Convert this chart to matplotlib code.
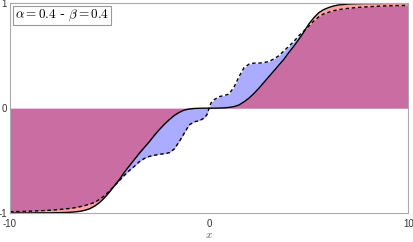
import numpy as np
import matplotlib
matplotlib.use("Agg")
import matplotlib.pyplot as plt

plt.rcParams['mathtext.fontset'] = 'cm'

# x positions at which the curves were read
x_vals = [-10, -9.5, -9, -8.5, -8, -7.5, -7, -6.75, -6.5, -6.25, -6, -5.75, -5.5, -5.25, -5,
          -4.75, -4.5, -4.25, -4, -3.75, -3.5, -3.25, -3, -2.75, -2.5, -2.25, -2, -1.75,
          -1.5, -1.25, -1, -0.75, -0.5, -0.25, -0.1, 0,
          0.1, 0.25, 0.5, 0.75, 1, 1.25, 1.5, 1.75, 2, 2.25, 2.5, 2.75, 3, 3.25, 3.5, 3.75,
          4, 4.25, 4.5, 4.75, 5, 5.25, 5.5, 5.75, 6, 6.25, 6.5, 6.75, 7, 7.5, 8, 8.5, 9, 9.5, 10]

# solid curve
solid_vals = [-1.0, -1.0, -1.0, -0.999, -0.999, -0.997, -0.994, -0.99, -0.985, -0.975, -0.96,
              -0.935, -0.90, -0.855, -0.80, -0.74, -0.68, -0.61, -0.55, -0.49, -0.43, -0.375,
              -0.32, -0.26, -0.205, -0.155, -0.11, -0.07, -0.04, -0.018, -0.008, -0.003,
              -0.001, 0.0, 0.0, 0.0,
              0.0, 0.0, 0.001, 0.003, 0.007, 0.015, 0.03, 0.06, 0.095, 0.14, 0.19, 0.245,
              0.30, 0.355, 0.41, 0.465, 0.53, 0.59, 0.655, 0.725, 0.80, 0.86, 0.91, 0.94,
              0.96, 0.975, 0.985, 0.99, 0.994, 0.997, 0.999, 0.999, 1.0, 1.0, 1.0]

# dashed curve
dashed_vals = [-0.988, -0.986, -0.983, -0.979, -0.974, -0.967, -0.957, -0.950, -0.941, -0.930,
               -0.915, -0.90, -0.87, -0.835, -0.79, -0.74, -0.69, -0.64, -0.595, -0.555,
               -0.51, -0.48, -0.46, -0.45, -0.44, -0.435, -0.425, -0.39, -0.32, -0.24,
               -0.16, -0.13, -0.12, -0.095, -0.06, 0.0,
               0.05, 0.08, 0.11, 0.12, 0.135, 0.20, 0.30, 0.385, 0.42, 0.43, 0.43, 0.435,
               0.445, 0.47, 0.50, 0.545, 0.59, 0.635, 0.69, 0.735, 0.78, 0.83, 0.87, 0.90,
               0.915, 0.93, 0.94, 0.947, 0.953, 0.962, 0.968, 0.973, 0.977, 0.979, 0.981]

x_ticks = [-10, 0, 10]
y_ticks = [-1, 0, 1]
label_text = r"$\alpha = 0.4$ - $\beta = 0.4$"

x = np.array(x_vals)
s = np.array(solid_vals)
d = np.array(dashed_vals)

fig = plt.figure(figsize=(4.14, 2.42), dpi=100)
ax = fig.add_axes([0.024, 0.12, 0.962, 0.866])

ax.fill_between(x, 0, d, color=(0.0, 0.0, 1.0), alpha=0.33, linewidth=0)
ax.fill_between(x, 0, s, color=(1.0, 0.0, 0.0), alpha=0.36, linewidth=0)
ax.plot(x, s, color='black', linewidth=1.0)
ax.plot(x, d, color='black', linewidth=1.0, linestyle=(0, (2.5, 2.0)))

ax.set_xlim(-10, 10)
ax.set_ylim(-1, 1)
ax.set_xticks(x_ticks)
ax.set_yticks(y_ticks)
ax.set_xticklabels([str(v) for v in x_ticks], family='Liberation Sans')
ax.set_yticklabels([str(v) for v in y_ticks], family='Liberation Sans')
ax.tick_params(length=0, labelsize=7, colors='#333333', pad=2)
ax.tick_params(axis='x', pad=4)
for sp in ax.spines.values():
    sp.set_color('#aaaaaa')
    sp.set_linewidth(0.8)

ax.set_xlabel(r"$x$", fontsize=8, labelpad=1, color='#555555')

ax.text(0.012, 0.98, label_text, transform=ax.transAxes, fontsize=9.5,
        ha='left', va='top',
        bbox=dict(boxstyle='square,pad=0.15', facecolor='white', edgecolor='#999999',
                  linewidth=0.8))

fig.savefig("out.png", dpi=100)
